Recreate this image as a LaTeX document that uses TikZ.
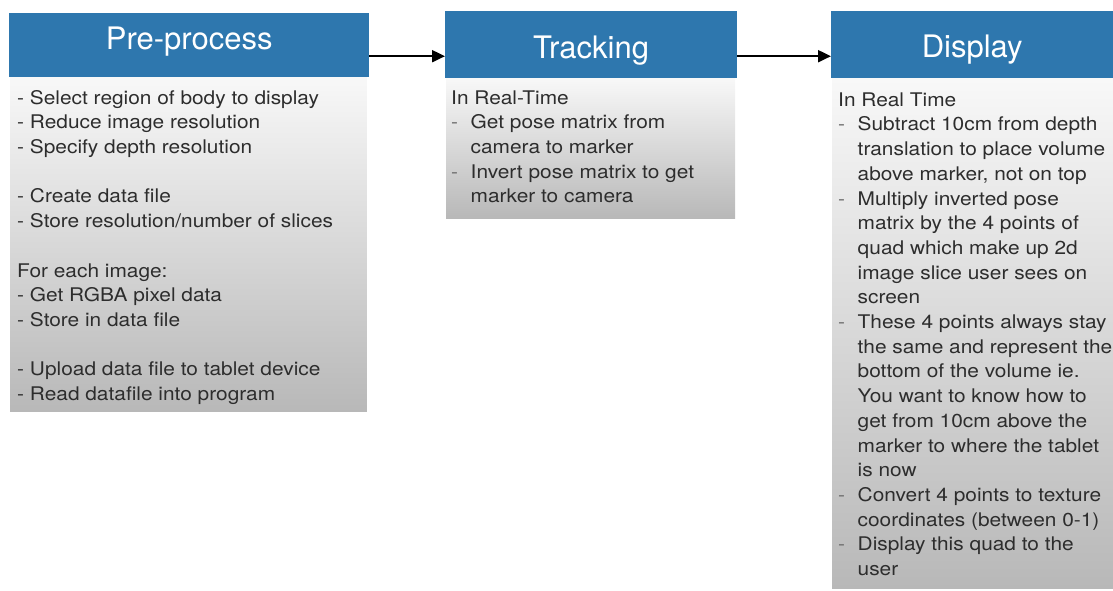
\documentclass[tikz,border=0pt]{standalone}
\usepackage{fontspec}
\setmainfont{TeX Gyre Heros}
\newfontfamily\bodyfont{TeX Gyre Heros}[FakeStretch=1.11]
\usetikzlibrary{arrows.meta}
\definecolor{hdrblue}{RGB}{46,119,174}
\definecolor{txtgray}{RGB}{45,45,45}
\definecolor{dashgray}{RGB}{110,110,110}
\definecolor{shadetop}{RGB}{248,248,248}
\definecolor{shadebot}{RGB}{184,184,184}
\newcommand\myitem{\makebox[19.5pt][l]{\textcolor{dashgray}{-}}}
\newcommand\mycont{\hspace*{19.5pt}}
\begin{document}
\begin{tikzpicture}[x=1pt,y=-1pt,
  hdr/.style={fill=hdrblue,text=white,inner sep=0pt,anchor=north west,
    font=\fontsize{31pt}{31pt}\selectfont},
  bodybox/.style={top color=shadetop,bottom color=shadebot,inner sep=0pt,
    anchor=north west,draw=none},
  bodytext/.style={inner sep=0pt,anchor=north west,align=left,text=txtgray,
    font=\bodyfont\fontsize{18.8pt}{24.7pt}\selectfont},
  arr/.style={-{Triangle[length=13pt,width=12pt]},line width=2pt,draw=black}]
\useasboundingbox (0,0) rectangle (1113,590);
% boxes
\node[bodybox,minimum width=356.7pt,minimum height=334.7pt] (prebody) at (10,77) {};
\node[bodybox,minimum width=289pt,minimum height=140pt] (trkbody) at (446,78) {};
\node[bodybox,minimum width=281pt,minimum height=510pt] (dspbody) at (832,78) {};
\node[hdr,minimum width=360pt,text height=36.3pt,text depth=27.7pt] (prehdr) at (9,12.7) {Pre-process};
\node[hdr,minimum width=291.7pt,text height=47pt,text depth=20pt] (trkhdr) at (445,11) {Tracking};
\node[hdr,minimum width=282pt,text height=46pt,text depth=21pt] (dsphdr) at (831,11) {Display};
% arrows
\coordinate (a1) at ([yshift=-11.3pt]prehdr.east);
\draw[arr] (a1) -- (a1 -| trkhdr.west);
\coordinate (a2) at ([yshift=-11.5pt]trkhdr.east);
\draw[arr] (a2) -- (a2 -| dsphdr.west);
% texts
\node[bodytext] (pretext) at (17,86.7) {\strut- Select region of body to display\\
- Reduce image resolution\\
- Specify depth resolution\\[24.7pt]
- Create data file\\
- Store resolution/number of slices\\[24.7pt]
For each image:\\
- Get RGBA pixel data\\
- Store in data file\\[24.7pt]
- Upload data file to tablet device\\
- Read datafile into program};
\node[bodytext] (trktext) at (451,86.7) {\strut In Real-Time\\
\myitem Get pose matrix from\\
\mycont camera to marker\\
\myitem Invert pose matrix to get\\
\mycont marker to camera};
\node[bodytext] (dsptext) at (838,88.7) {\strut In Real Time\\
\myitem Subtract 10cm from depth\\
\mycont translation to place volume\\
\mycont above marker, not on top\\
\myitem Multiply inverted pose\\
\mycont matrix by the 4 points of\\
\mycont quad which make up 2d\\
\mycont image slice user sees on\\
\mycont screen\\
\myitem These 4 points always stay\\
\mycont the same and represent the\\
\mycont bottom of the volume ie.\\
\mycont You want to know how to\\
\mycont get from 10cm above the\\
\mycont marker to where the tablet\\
\mycont is now\\
\myitem Convert 4 points to texture\\
\mycont coordinates (between 0-1)\\
\myitem Display this quad to the\\
\mycont user};
\end{tikzpicture}
\end{document}
